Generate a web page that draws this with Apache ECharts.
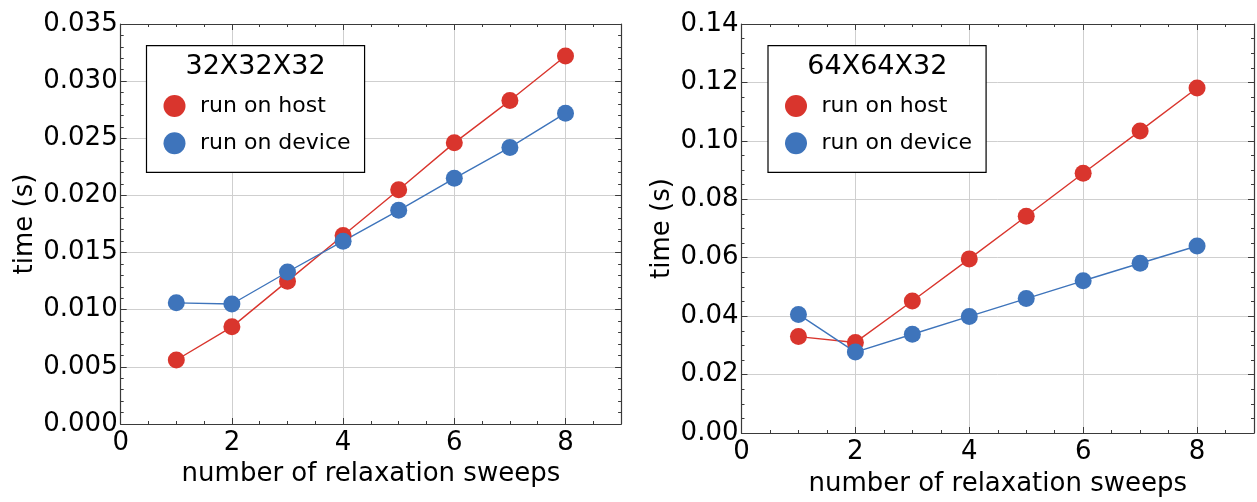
<!DOCTYPE html>
<html>
<head>
<meta charset="utf-8">
<script src="https://cdn.jsdelivr.net/npm/echarts@6/dist/echarts.min.js"></script>
<style>
html,body{margin:0;padding:0;background:#fff;}
#chart{width:1257px;height:502px;}
</style>
</head>
<body>
<div id="chart"></div>
<script>
// ---- data ----
const sweeps = [1, 2, 3, 4, 5, 6, 7, 8];
const seriesNames = ['run on host', 'run on device'];
const panelTitles = ['32X32X32', '64X64X32'];
const hostSmall   = [0.0056, 0.0085, 0.0125, 0.0165, 0.0205, 0.0246, 0.0283, 0.0322];
const deviceSmall = [0.0106, 0.0105, 0.0133, 0.0160, 0.0187, 0.0215, 0.0242, 0.0272];
const hostLarge   = [0.0330, 0.0310, 0.0452, 0.0596, 0.0742, 0.0889, 0.1034, 0.1181];
const deviceLarge = [0.0406, 0.0277, 0.0338, 0.0399, 0.0460, 0.0521, 0.0581, 0.0640];
const xTicks = [0, 2, 4, 6, 8];
const yTicksSmall = [0, 0.005, 0.010, 0.015, 0.020, 0.025, 0.030, 0.035];
const yTicksLarge = [0, 0.02, 0.04, 0.06, 0.08, 0.10, 0.12, 0.14];
const xLabel = 'number of relaxation sweeps';
const yLabel = 'time (s)';

// ---- styling ----
const RED = '#d9352d', BLUE = '#3e74bb';
const FONT = 'DejaVu Sans';
const AX = '#3a3a3a', GRIDC = '#cfcfcf';

const grids = [
  {left: 120.7, top: 24, width: 500.4, height: 400},
  {left: 741.5, top: 24, width: 516, height: 412.7}
];
const panelInfo = [
  {ticks: yTicksSmall, minor: 0.001, digits: 3, yNameGap: 82.5, xNameGap: 37, xMargin: 6},
  {ticks: yTicksLarge, minor: 0.005, digits: 2, yNameGap: 66, xNameGap: 38, xMargin: 6}
];

const xAxes = [], yAxes = [];
grids.forEach((g, gi) => {
  const pi = panelInfo[gi];
  const xMin = xTicks[0], xInt = xTicks[1] - xTicks[0], xMax = 9;
  // bottom major
  xAxes.push({type: 'value', gridIndex: gi, position: 'bottom', min: xMin, max: xMax, interval: xInt,
    axisLine: {show: true, onZero: false, lineStyle: {color: AX, width: 1.2}},
    axisTick: {show: true, inside: true, length: 6, lineStyle: {color: AX}},
    axisLabel: {show: true, margin: pi.xMargin, color: '#000', fontFamily: FONT, fontSize: 26,
      formatter: v => (xTicks.indexOf(v) >= 0 ? String(v) : '')},
    splitLine: {show: true, lineStyle: {color: GRIDC, width: 1}},
    name: xLabel, nameLocation: 'middle', nameGap: pi.xNameGap,
    nameTextStyle: {color: '#000', fontFamily: FONT, fontSize: 26}
  });
  // bottom minor
  xAxes.push({type: 'value', gridIndex: gi, position: 'bottom', min: xMin, max: xMax, interval: 0.5,
    axisLine: {show: false, onZero: false}, axisTick: {show: true, inside: true, length: 3, lineStyle: {color: AX}},
    axisLabel: {show: false}, splitLine: {show: false}});
  // top major
  xAxes.push({type: 'value', gridIndex: gi, position: 'top', min: xMin, max: xMax, interval: xInt,
    axisLine: {show: true, onZero: false, lineStyle: {color: AX, width: 1.2}},
    axisTick: {show: true, inside: true, length: 6, lineStyle: {color: AX}},
    axisLabel: {show: false}, splitLine: {show: false}});
  // top minor
  xAxes.push({type: 'value', gridIndex: gi, position: 'top', min: xMin, max: xMax, interval: 0.5,
    axisLine: {show: false, onZero: false}, axisTick: {show: true, inside: true, length: 3, lineStyle: {color: AX}},
    axisLabel: {show: false}, splitLine: {show: false}});

  const yMin = pi.ticks[0], yMax = pi.ticks[pi.ticks.length - 1], yInt = pi.ticks[1] - pi.ticks[0];
  yAxes.push({type: 'value', gridIndex: gi, position: 'left', min: yMin, max: yMax, interval: yInt,
    axisLine: {show: true, onZero: false, lineStyle: {color: AX, width: 1.2}},
    axisTick: {show: true, inside: true, length: 6, lineStyle: {color: AX}},
    axisLabel: {show: true, margin: 3, color: '#000', fontFamily: FONT, fontSize: 26,
      formatter: v => v.toFixed(pi.digits)},
    splitLine: {show: true, lineStyle: {color: GRIDC, width: 1}},
    name: yLabel, nameLocation: 'middle', nameGap: pi.yNameGap,
    nameTextStyle: {color: '#000', fontFamily: FONT, fontSize: 26}
  });
  yAxes.push({type: 'value', gridIndex: gi, position: 'left', min: yMin, max: yMax, interval: pi.minor,
    axisLine: {show: false, onZero: false}, axisTick: {show: true, inside: true, length: 3, lineStyle: {color: AX}},
    axisLabel: {show: false}, splitLine: {show: false}});
  yAxes.push({type: 'value', gridIndex: gi, position: 'right', min: yMin, max: yMax, interval: yInt,
    axisLine: {show: true, onZero: false, lineStyle: {color: AX, width: 1.2}},
    axisTick: {show: true, inside: true, length: 6, lineStyle: {color: AX}},
    axisLabel: {show: false}, splitLine: {show: false}});
  yAxes.push({type: 'value', gridIndex: gi, position: 'right', min: yMin, max: yMax, interval: pi.minor,
    axisLine: {show: false, onZero: false}, axisTick: {show: true, inside: true, length: 3, lineStyle: {color: AX}},
    axisLabel: {show: false}, splitLine: {show: false}});
});

function mkSeries(name, vals, color, gi) {
  return {
    type: 'line', name: name, xAxisIndex: gi * 4, yAxisIndex: gi * 4,
    data: sweeps.map((x, i) => [x, vals[i]]),
    symbol: 'circle', symbolSize: 17,
    itemStyle: {color: color},
    lineStyle: {color: color, width: 1.4},
    emphasis: {disabled: true}, animation: false, z: 5
  };
}

const legendBoxes = [
  {left: 146.5, top: 45.7, titleLeft: 185.5},
  {left: 768, top: 45.7, titleLeft: 807.3}
];

const option = {
  backgroundColor: '#fff',
  animation: false,
  grid: grids.map(g => Object.assign({containLabel: false}, g)),
  xAxis: xAxes,
  yAxis: yAxes,
  title: panelTitles.map((t, i) => ({
    text: t, left: legendBoxes[i].titleLeft, top: 51.7, padding: 0,
    textStyle: {fontFamily: FONT, fontSize: 27, fontWeight: 'normal', color: '#000', lineHeight: 30}
  })),
  legend: legendBoxes.map(b => ({
    data: seriesNames, orient: 'vertical', left: b.left, top: b.top,
    icon: 'circle', itemWidth: 22, itemHeight: 22, itemGap: 9.3,
    padding: [46.3, 14, 15, 17],
    borderColor: '#000', borderWidth: 1.2, backgroundColor: '#fff',
    selectedMode: false,
    textStyle: {fontFamily: FONT, fontSize: 22, color: '#000', lineHeight: 28, padding: [0, 0, 0, 9.5]}
  })),
  series: [
    mkSeries(seriesNames[0], hostSmall, RED, 0),
    mkSeries(seriesNames[1], deviceSmall, BLUE, 0),
    mkSeries(seriesNames[0], hostLarge, RED, 1),
    mkSeries(seriesNames[1], deviceLarge, BLUE, 1)
  ]
};

const chart = echarts.init(document.getElementById('chart'), null, {renderer: 'canvas'});
chart.setOption(option);
</script>
</body>
</html>
